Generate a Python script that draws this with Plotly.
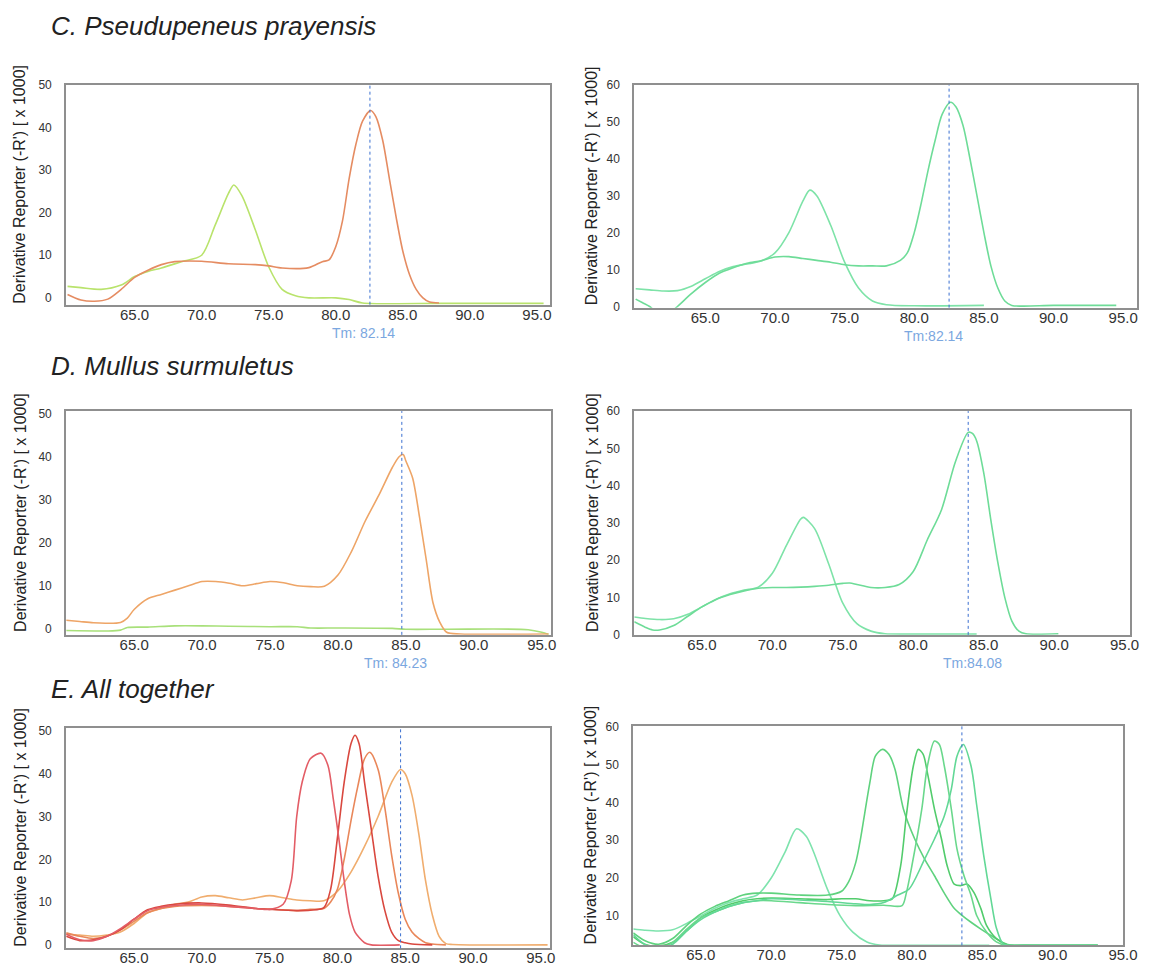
import plotly.graph_objects as go

W, H = 1163, 976

# ---------------- data (x = temperature, y = derivative reporter x1000) ----------------
# C. Pseudupeneus prayensis - left
c_l_green_x = [60, 61, 62.5, 64, 65, 66, 67, 68.5, 70, 71, 72, 72.4, 73, 74, 75, 76, 77, 78, 80, 81, 82, 88, 95.5]
c_l_green_y = [2.7, 2.4, 2.0, 3.0, 5.0, 6.2, 7.0, 8.5, 10, 17, 24.5, 26.5, 24, 16, 7.3, 2.0, 0.5, 0, 0, -0.4, -1.2, -1.3, -1.3]
c_l_orange_x = [60, 61, 62, 63, 64, 65, 66, 67, 68, 70, 72, 74, 75, 76, 78, 79, 79.5, 80, 80.5, 81, 81.5, 82, 82.6, 83, 83.5, 84, 84.5, 85, 85.5, 86, 86.5, 87, 87.7]
c_l_orange_y = [0.8, -0.5, -0.8, -0.3, 2, 4.8, 6.5, 7.8, 8.5, 8.6, 8.0, 7.8, 7.5, 7.0, 7.1, 8.5, 8.9, 12, 18, 28, 36, 41.5, 44, 42.5, 37, 28, 19, 11, 5.5, 2, 0, -1, -1.2]
# C - right
c_r_a_x = [60, 61, 62, 63, 64, 65, 66, 67, 68, 69, 70, 71, 72, 72.5, 73, 74, 75, 76, 77, 78, 80, 85]
c_r_a_y = [4.8, 4.5, 4.2, 4.3, 5.5, 7.5, 9.5, 10.8, 11.5, 12.3, 14.5, 20, 28.5, 31.5, 30, 22, 12, 5, 1.5, 0.5, 0.2, 0.3]
c_r_b_x = [60, 60.5, 61, 61.5, 62, 62.5, 63, 64, 65, 66, 67, 68, 69, 70, 71, 72, 73, 74, 75, 76, 77, 78, 79, 79.5, 80, 80.5, 81, 81.5, 82, 82.6, 83, 83.5, 84, 84.5, 85, 85.5, 86, 86.5, 87, 90, 94.5]
c_r_b_y = [2, 1, 0, -1.5, -2, -1.5, 0, 3.5, 6.5, 9, 10.5, 11.7, 12.4, 13.4, 13.5, 13, 12.5, 12, 11.3, 11, 11, 11, 12.5, 14.5, 20, 28, 37, 45, 52, 55.3, 54, 49, 40, 30, 20, 11, 5, 1.5, 0.3, 0.3, 0.3]

# D. Mullus surmuletus - left
d_l_orange_x = [60, 61, 62, 63, 64, 64.5, 65, 66, 67, 68, 69, 70, 71, 72, 73, 74, 75, 76, 77, 78, 79, 80, 81, 82, 83, 84, 84.5, 84.8, 85, 85.5, 86, 86.5, 87, 87.5, 88, 89, 95.5]
d_l_orange_y = [2, 1.7, 1.4, 1.3, 1.5, 2.5, 4.5, 7, 8, 9, 10, 11, 11, 10.6, 10, 10.5, 11, 10.7, 10, 9.8, 9.9, 12.5, 18, 25, 31, 37.5, 40, 40.5, 39, 35, 26, 16, 6, 1.5, -0.8, -1.2, -1.2]
d_l_green_x = [60, 63, 64, 64.5, 66, 68, 70, 72, 75, 77, 78, 80, 84, 85, 88, 94, 95, 95.5]
d_l_green_y = [-0.4, -0.5, -0.3, 0.3, 0.4, 0.7, 0.7, 0.6, 0.5, 0.5, 0.2, 0.2, 0.1, -0.1, -0.1, -0.2, -0.8, -1.3]
# D - right
d_r_a_x = [60.2, 61, 62, 63, 64, 65, 66, 67, 68, 69, 70, 71, 72, 72.2, 73, 74, 75, 76, 77, 78, 80, 84.5]
d_r_a_y = [4.8, 4.4, 4.1, 4.3, 5.5, 7.5, 9.5, 11, 12, 12.8, 16.5, 24, 31, 31.5, 28.5, 19, 8.5, 3, 1, 0.3, 0.2, 0.2]
d_r_b_x = [60.2, 61, 61.5, 62, 63, 64, 65, 66, 67, 68, 69, 70, 71, 72, 73, 74, 75, 75.5, 76, 77, 78, 79, 80, 81, 82, 83, 83.9, 84.2, 84.5, 85, 85.5, 86, 86.5, 87, 87.5, 88, 90.3]
d_r_b_y = [3.5, 2, 1.3, 1.3, 2.5, 5, 7.5, 9.5, 10.8, 11.8, 12.5, 12.7, 12.7, 12.8, 13, 13.3, 13.8, 13.9, 13.5, 12.7, 12.7, 13.5, 17, 25.5, 33.5, 46.5, 54.3, 54, 52, 43.5, 31, 19.5, 10, 3.7, 1, 0.3, 0.3]

# E. All together - left
e_l_1_x = [60, 61, 62, 63, 64, 65, 66, 67, 68, 70, 72, 74, 75, 76, 76.6, 77, 77.4, 78, 78.8, 79.3, 79.7, 80.1, 80.5, 80.9, 81.3, 82, 82.5, 84.6]
e_l_1_y = [2.5, 1.2, 1.0, 2.0, 3.8, 6.0, 8.0, 8.8, 9.2, 9.5, 9.0, 8.5, 8.3, 9.5, 15, 30, 38, 43.5, 44.8, 42, 34, 25, 15, 7, 3, 0.5, 0, 0]
e_l_2_x = [60, 61, 62, 63, 64, 65, 66, 67, 68, 70, 72, 74, 75, 77, 78, 79, 79.5, 80, 80.5, 81, 81.3, 81.6, 82, 82.5, 83, 83.5, 84, 84.5, 85, 85.5, 87]
e_l_2_y = [2.0, 1.0, 1.2, 2.0, 3.5, 6.0, 8.2, 9.0, 9.5, 9.8, 9.3, 8.5, 8.3, 8.0, 8.1, 8.7, 13, 25, 38, 47, 49, 47, 38, 27, 16, 8, 3, 1, 0.5, 0.2, 0]
e_l_3_x = [60, 61, 62, 63, 64, 65, 66, 67, 68, 70, 72, 74, 76, 77, 78, 79, 79.5, 80, 80.5, 81, 81.5, 82, 82.4, 83, 83.5, 84, 84.5, 85, 85.5, 86, 86.5, 87, 88]
e_l_3_y = [2.8, 2.0, 1.5, 2.0, 3.5, 5.5, 7.5, 8.5, 9.0, 9.2, 9.0, 8.5, 8.2, 8.0, 8.3, 8.5, 10, 13, 20, 29, 37, 43.5, 45, 41, 32, 21, 12, 6, 3, 1.5, 0.5, 0.2, 0]
e_l_4_x = [60, 61, 62, 63, 64, 65, 66, 67, 68, 69, 70, 71, 72, 73, 74, 75, 76, 77, 78, 79, 80, 81, 82, 83, 84, 84.65, 85, 85.5, 86, 86.5, 87, 87.5, 88, 88.5, 95.5]
e_l_4_y = [2.5, 2.3, 2.0, 2.3, 3.0, 5.0, 7.5, 8.5, 9.5, 10, 11.2, 11.5, 11, 10.5, 11, 11.5, 11, 10.5, 10.3, 10.3, 12.5, 17, 23, 30, 38, 41, 40, 35, 26, 15, 7, 2, 0.3, 0.1, 0]
# E - right
e_r_1_x = [60.2, 61, 62, 63, 64, 65, 66, 67, 68, 69, 70, 71, 71.8, 72.5, 73, 74, 74.9, 75.8, 76.8, 77.7, 80, 85.5]
e_r_1_y = [6.5, 6.2, 6.0, 6.3, 8, 10, 12, 13.5, 14.5, 15.5, 20, 27, 33, 31, 27, 17, 10, 5.7, 3.1, 2.3, 2.2, 2.2]
e_r_2_x = [60.2, 61, 62, 63, 64, 65, 66, 67, 68, 69, 70, 72, 74, 75, 75.5, 76, 76.3, 77, 77.4, 77.9, 78.36, 78.8, 79.4, 80.2, 80.9, 81.6, 82.3, 83.0, 83.6, 84.2, 84.9, 85.8, 86.8, 88, 93.2]
e_r_2_y = [5.5, 3.5, 2.5, 4, 7.5, 10.5, 12.5, 14, 15.5, 16, 16, 15.5, 15.5, 16.5, 19, 24, 29.4, 45, 52.2, 54, 52.7, 48.7, 38.2, 30.3, 25, 20.6, 16, 12, 10, 8.3, 6.5, 4.4, 2.4, 2.2, 2.2]
e_r_3_x = [60.2, 61, 62, 63, 64, 65, 66, 67, 68, 69, 70, 72, 74, 75, 76, 77, 78, 78.6, 79.2, 79.6, 80.1, 80.45, 80.8, 81.1, 81.6, 82.1, 82.5, 83.0, 83.5, 83.9, 84.4, 84.9, 85.3, 86.0, 86.8, 88, 93.2]
e_r_3_y = [4.5, 2.5, 2, 3, 6, 9.5, 11.5, 13, 14, 14.5, 14.7, 14.5, 14.3, 14.5, 14.5, 14, 14, 14.5, 23.3, 36.4, 49.6, 54, 52.7, 47.8, 38.2, 30.3, 23.3, 18.4, 18, 18.4, 16.2, 11.9, 7.5, 4, 2.3, 2.2, 2.2]
e_r_4_x = [60.2, 61, 62, 63, 64, 65, 66, 67, 68, 69, 70, 72, 74, 76, 78, 79.3, 79.6, 80.0, 80.7, 81.1, 81.6, 81.95, 82.3, 82.8, 83.2, 83.7, 84.2, 84.6, 85.3, 86.0, 86.7, 88, 93.2]
e_r_4_y = [3, 1.5, 1.2, 3, 6.5, 9.5, 11, 12.5, 13.5, 14, 14, 13.5, 13, 12.7, 12.8, 12.7, 16, 23.3, 38.2, 49.6, 56.2, 55.3, 49.6, 38.2, 27.7, 20.6, 15.4, 10.1, 5.7, 3.1, 2.2, 2.2, 2.2]
e_r_5_x = [60.2, 61, 62, 63, 64, 65, 66, 67, 68, 69, 70, 72, 74, 76, 77, 78, 79, 79.8, 80.9, 81.6, 82.3, 82.8, 83.2, 83.65, 84.2, 84.6, 85.1, 85.6, 86.0, 86.5, 87, 88, 93.2]
e_r_5_y = [5, 2.5, 1.5, 2.5, 6, 9, 11, 12.5, 13.5, 14, 14.5, 14.2, 13.8, 13.2, 13, 13.5, 15.5, 17.1, 25, 30.3, 36.4, 43.5, 52.2, 55.3, 49.6, 39.3, 26, 14.7, 6.8, 2.5, 2.2, 2.2, 2.2]

# melting temperature markers (x position of dotted line) and labels
tm_lines = [82.55, 82.5, 84.7, 83.9, 84.66, 83.55]
tm_labels = ["Tm: 82.14", "Tm:82.14", "Tm: 84.23", "Tm:84.08", None, None]
tm_label_shift = [-6, -16, -6, 4, 0, 0]

section_titles = ["C. Pseudupeneus prayensis", "D. Mullus surmuletus", "E. All together"]
y_title = "Derivative Reporter (-R') [ x 1000]"
x_ticks = [65, 70, 75, 80, 85, 90, 95]
y_ticks_left = [0, 10, 20, 30, 40, 50]
y_ticks_right = [0, 10, 20, 30, 40, 50, 60]

# ---------------- layout geometry (pixels) ----------------
panels = [
    dict(px=(67, 557), py=(79, 302), xr=(59.9, 96.0), yr=(-1.6, 50.0), yt=y_ticks_left, tx=47),
    dict(px=(642, 1151), py=(79, 305), xr=(59.9, 96.0), yr=(-0.3, 60.0), yt=y_ticks_right, tx=43),
    dict(px=(67, 558), py=(410, 637), xr=(60.0, 95.7), yr=(-1.4, 50.6), yt=y_ticks_left, tx=47),
    dict(px=(642, 1144), py=(410, 637), xr=(60.2, 95.4), yr=(0.0, 60.0), yt=y_ticks_right, tx=43),
    dict(px=(67, 557), py=(731, 955), xr=(60.0, 95.7), yr=(-0.8, 50.8), yt=y_ticks_left, tx=47),
    dict(px=(641, 1137), py=(729, 952), xr=(60.2, 95.02), yr=(2.2, 60.3), yt=y_ticks_right, tx=43),
]

series = [
    [(c_l_green_x, c_l_green_y, "#b9e36c"), (c_l_orange_x, c_l_orange_y, "#e58c62")],
    [(c_r_a_x, c_r_a_y, "#7ee3a8"), (c_r_b_x, c_r_b_y, "#6edc98")],
    [(d_l_green_x, d_l_green_y, "#a8e07a"), (d_l_orange_x, d_l_orange_y, "#eea567")],
    [(d_r_a_x, d_r_a_y, "#7ee3a8"), (d_r_b_x, d_r_b_y, "#6edc98")],
    [(e_l_4_x, e_l_4_y, "#f0ad6e"), (e_l_3_x, e_l_3_y, "#e9875a"),
     (e_l_2_x, e_l_2_y, "#d9483f"), (e_l_1_x, e_l_1_y, "#e35d66")],
    [(e_r_1_x, e_r_1_y, "#7ee3ad"), (e_r_2_x, e_r_2_y, "#5fd27e"),
     (e_r_3_x, e_r_3_y, "#52cc6c"), (e_r_4_x, e_r_4_y, "#6ad88c"),
     (e_r_5_x, e_r_5_y, "#62d896")],
]

FONT = "Liberation Sans, Arial, sans-serif"
fig = go.Figure()
layout = dict(width=W, height=H, margin=dict(l=0, r=0, t=0, b=0),
              paper_bgcolor="white", plot_bgcolor="white", showlegend=False,
              font=dict(family=FONT, color="#333"))
shapes, annotations = [], []

for i, p in enumerate(panels):
    n = i + 1
    xa = "x" if n == 1 else f"x{n}"
    ya = "y" if n == 1 else f"y{n}"
    xkey = "xaxis" if n == 1 else f"xaxis{n}"
    ykey = "yaxis" if n == 1 else f"yaxis{n}"
    layout[xkey] = dict(domain=[p["px"][0] / W, p["px"][1] / W], range=list(p["xr"]),
                        anchor=ya, tickvals=x_ticks, ticktext=[f"{v:.1f}" for v in x_ticks],
                        showgrid=False, zeroline=False, showline=True, mirror=True,
                        linecolor="#8f8f8f", linewidth=2, ticks="",
                        tickfont=dict(size=15, color="#333"), ticklabelstandoff=-5)
    layout[ykey] = dict(domain=[1 - p["py"][1] / H, 1 - p["py"][0] / H], range=list(p["yr"]),
                        anchor=xa, tickvals=p["yt"], showgrid=False, zeroline=False,
                        showline=True, mirror=True, linecolor="#8f8f8f", linewidth=2,
                        ticks="", tickfont=dict(size=12, color="#333"), ticklabelstandoff=10)
    for (sx, sy, col) in series[i]:
        fig.add_trace(go.Scatter(x=sx, y=sy, mode="lines", xaxis=xa, yaxis=ya,
                                 line=dict(color=col, width=1.6, shape="spline", smoothing=0.8),
                                 hoverinfo="skip"))
    shapes.append(dict(type="line", xref=xa, yref=f"{ya} domain", x0=tm_lines[i], x1=tm_lines[i],
                       y0=0, y1=1, line=dict(color="#3a6fd0", width=1, dash="dot")))
    if tm_labels[i]:
        annotations.append(dict(text=tm_labels[i], xref=xa, yref="paper", x=tm_lines[i],
                                xshift=tm_label_shift[i],
                                y=1 - (p["py"][1] + 29) / H, showarrow=False,
                                font=dict(size=14, color="#7ba7e0", family=FONT),
                                xanchor="center", yanchor="middle"))
    # y-axis title
    annotations.append(dict(text=y_title, xref="paper", yref="paper",
                            x=(p["px"][0] - p["tx"]) / W,
                            y=1 - ((p["py"][0] + p["py"][1]) / 2 - 11) / H,
                            textangle=-90, showarrow=False, xanchor="center", yanchor="middle",
                            font=dict(size=16, color="#222", family=FONT)))

# "0" label of the last panel sits below its clipped range
annotations.append(dict(text="0", xref="x6 domain", yref="y6", x=0, y=0, xanchor="right",
                        yanchor="middle", xshift=-10, showarrow=False,
                        font=dict(size=12, color="#333", family=FONT)))

for txt, yc in zip(section_titles, [19, 364, 692]):
    annotations.append(dict(text=txt, xref="paper", yref="paper", x=50 / W, y=1 - yc / H,
                            xanchor="left", yanchor="middle", showarrow=False,
                            font=dict(size=26, color="#222", family=FONT, style="italic")))

layout["shapes"] = shapes
layout["annotations"] = annotations
fig.update_layout(**layout)
fig.write_html("out.html")
